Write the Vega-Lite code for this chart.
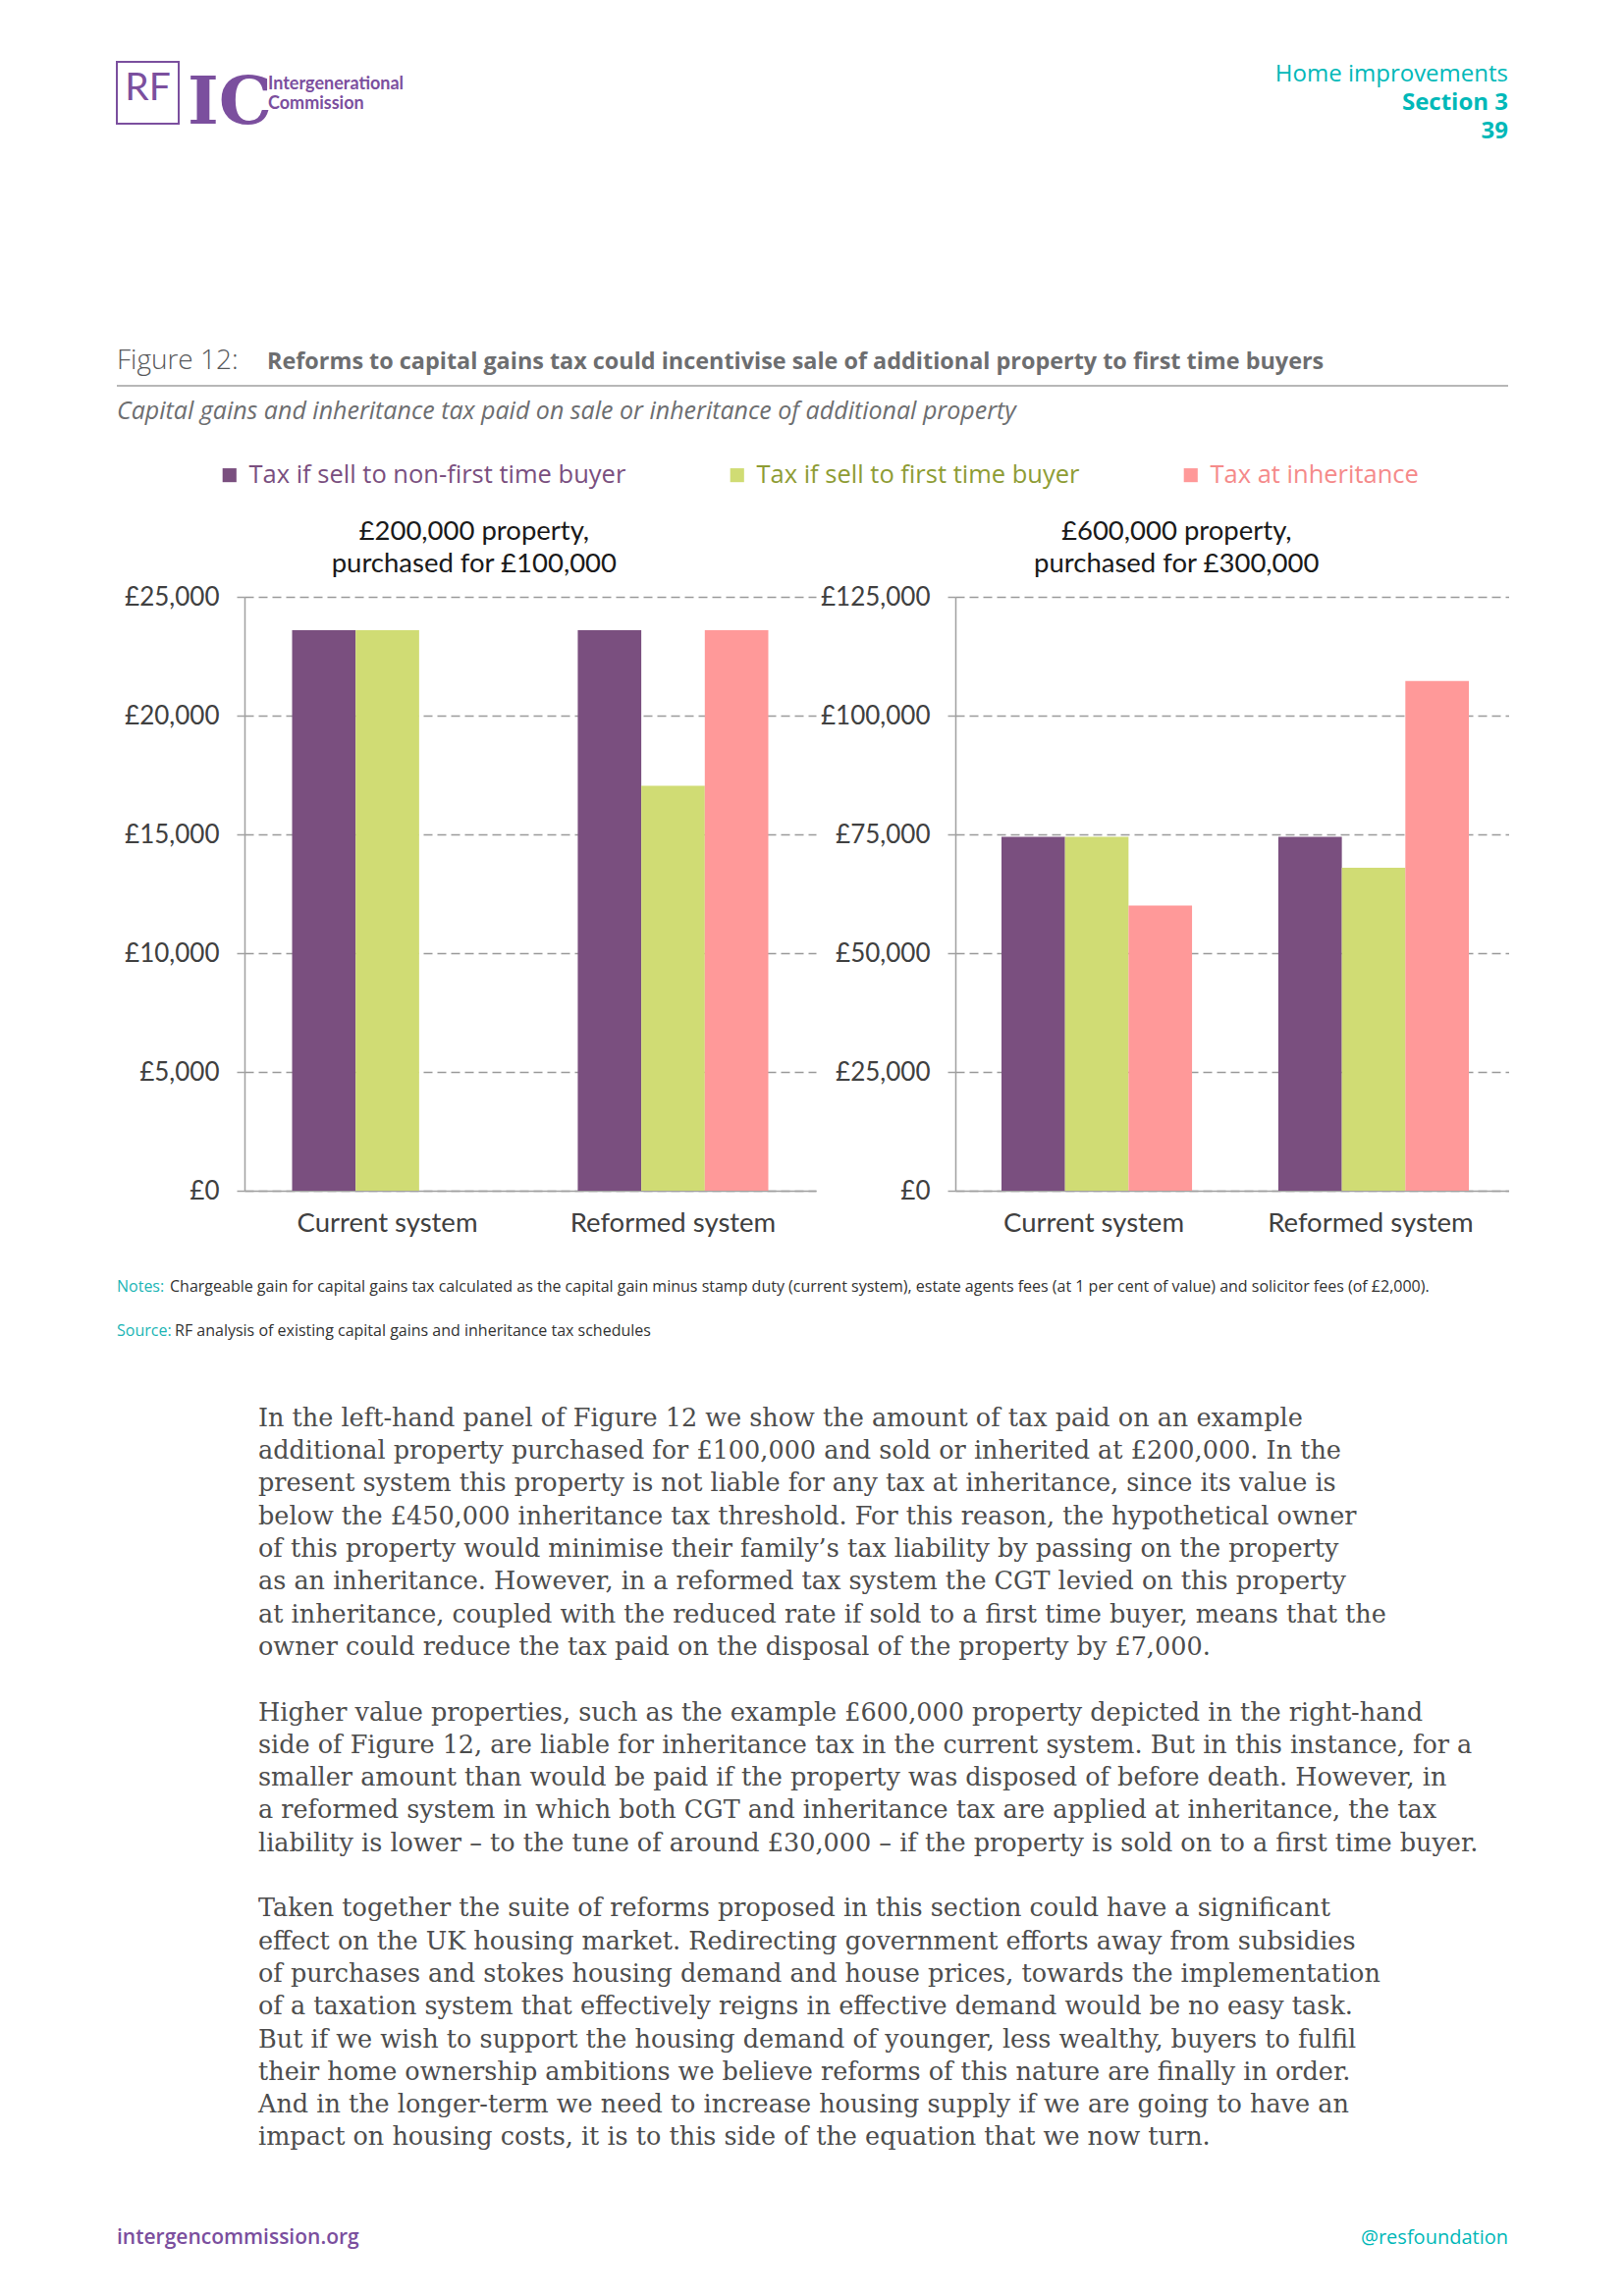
{
  "$schema": "https://vega.github.io/schema/vega-lite/v6.json",
  "background": "white",
  "padding": {"left": 118, "top": 0, "right": 0, "bottom": 0},
  "config": {
    "font": "Lato",
    "view": {"stroke": null},
    "title": {"baseline": "top", "fontWeight": "normal"},
    "axis": {"labelFont": "Lato", "labelFontSize": 26, "labelColor": "#404040", "title": null, "labelLimit": 400}
  },
  "datasets": {
    "blank": [{"k": "blank"}],
    "tax": [
      {"panel": "left", "system": "Current system", "series": "Tax if sell to non-first time buyer", "value": 23600},
      {"panel": "left", "system": "Current system", "series": "Tax if sell to first time buyer", "value": 23600},
      {"panel": "left", "system": "Current system", "series": "Tax at inheritance", "value": 0},
      {"panel": "left", "system": "Reformed system", "series": "Tax if sell to non-first time buyer", "value": 23600},
      {"panel": "left", "system": "Reformed system", "series": "Tax if sell to first time buyer", "value": 17050},
      {"panel": "left", "system": "Reformed system", "series": "Tax at inheritance", "value": 23600},
      {"panel": "right", "system": "Current system", "series": "Tax if sell to non-first time buyer", "value": 74500},
      {"panel": "right", "system": "Current system", "series": "Tax if sell to first time buyer", "value": 74500},
      {"panel": "right", "system": "Current system", "series": "Tax at inheritance", "value": 60000},
      {"panel": "right", "system": "Reformed system", "series": "Tax if sell to non-first time buyer", "value": 74500},
      {"panel": "right", "system": "Reformed system", "series": "Tax if sell to first time buyer", "value": 68000},
      {"panel": "right", "system": "Reformed system", "series": "Tax at inheritance", "value": 107300}
    ]
  },
  "vconcat": [
    {"width": 1417, "height": 63, "data": {"name": "blank"}, "mark": {"type": "point", "opacity": 0}, "encoding": {}},
    {
      "hconcat": [
        {"width": 63, "height": 63, "view": {"stroke": "#7b4f9e", "strokeWidth": 2}, "data": {"name": "blank"}, "mark": {"type": "point", "opacity": 0}, "encoding": {},
         "title": {"text": "RF", "anchor": "middle", "font": "Lato", "fontSize": 39, "color": "#7b4f9e", "offset": -47.2}},
        {"width": 91, "height": 63, "data": {"name": "blank"}, "mark": {"type": "point", "opacity": 0}, "encoding": {},
         "title": {"text": "IC", "anchor": "end", "dx": 4, "font": "DejaVu Serif", "fontWeight": "bold", "fontSize": 68, "color": "#7b4f9e", "offset": -77.3}},
        {"width": 200, "height": 63, "data": {"name": "blank"}, "mark": {"type": "point", "opacity": 0}, "encoding": {},
         "title": {"text": ["Intergenerational", "Commission"], "anchor": "start", "font": "Lato", "fontWeight": "bold", "fontSize": 18, "lineHeight": 20, "color": "#7b4f9e", "offset": -51.8}},
        {"width": 1063, "height": 63, "data": {"name": "blank"}, "mark": {"type": "point", "opacity": 0}, "encoding": {},
         "title": {"text": "Home improvements", "subtitle": ["Section 3", "39"], "anchor": "end", "font": "Open Sans", "fontWeight": "normal", "fontSize": 24, "color": "#00b8b8",
                   "subtitleFont": "Open Sans", "subtitleFontWeight": "bold", "subtitleFontSize": 24, "subtitleLineHeight": 29, "subtitleColor": "#00b8b8", "subtitlePadding": 5, "offset": -83.4}}
      ],
      "spacing": 0, "bounds": "flush"
    },
    {"width": 1417, "height": 277, "data": {"name": "blank"}, "mark": {"type": "point", "opacity": 0}, "encoding": {}},
    {
      "hconcat": [
        {"width": 153, "height": 52, "data": {"name": "blank"}, "mark": {"type": "point", "opacity": 0}, "encoding": {},
         "title": {"text": "Figure 12:", "anchor": "start", "font": "Open Sans", "fontWeight": 300, "fontSize": 28, "color": "#58595b", "offset": -41.9}},
        {"width": 1264, "height": 52, "data": {"name": "blank"}, "mark": {"type": "point", "opacity": 0}, "encoding": {},
         "title": {"text": "Reforms to capital gains tax could incentivise sale of additional property to first time buyers", "anchor": "start", "font": "Open Sans", "fontWeight": "bold", "fontSize": 23.4, "color": "#6d6e70", "offset": -40.9}}
      ],
      "spacing": 0, "bounds": "flush"
    },
    {"width": 1417, "height": 52, "data": {"name": "blank"}, "mark": {"type": "point", "opacity": 0}, "encoding": {}},
    {"width": 1417, "height": 2, "view": {"fill": "#b7b7b7", "stroke": null}, "data": {"name": "blank"}, "mark": {"type": "point", "opacity": 0}, "encoding": {}},
    {"width": 1417, "height": 56, "data": {"name": "blank"}, "mark": {"type": "point", "opacity": 0}, "encoding": {},
     "title": {"text": "Capital gains and inheritance tax paid on sale or inheritance of additional property", "anchor": "start", "font": "Open Sans", "fontWeight": "normal", "fontStyle": "italic", "fontSize": 25, "color": "#6d6e70", "offset": -38.2}},
    {"width": 1417, "height": 158, "data": {"name": "blank"}, "mark": {"type": "point", "opacity": 0}, "encoding": {}},
    {
      "hconcat": [
        {"width": 130, "height": 605, "data": {"name": "blank"}, "mark": {"type": "point", "opacity": 0}, "encoding": {}},
        {
          "width": 582, "height": 605,
          "data": {"name": "tax"},
          "transform": [{"filter": "datum.panel === 'left'"}],
          "title": {"text": ["£200,000 property,", "purchased for £100,000"], "frame": "bounds", "anchor": "middle", "font": "Lato", "fontSize": 27.5, "lineHeight": 33, "color": "#1a1a1a", "offset": 6.2, "dx": 4},
          "mark": {"type": "bar"},
          "encoding": {
            "x": {"field": "system", "type": "nominal", "sort": ["Current system", "Reformed system"],
                  "scale": {"paddingInner": 0.333, "paddingOuter": 0.1667},
                  "axis": {"ticks": false, "tickSize": 0, "labelAngle": 0, "labelPadding": 19, "labelFontSize": 27.5, "domainColor": "#a0a0a0", "domainWidth": 1.5, "title": null}},
            "xOffset": {"field": "series", "type": "nominal", "sort": ["Tax if sell to non-first time buyer", "Tax if sell to first time buyer", "Tax at inheritance"], "scale": {"paddingInner": 0, "paddingOuter": 0}},
            "y": {"field": "value", "type": "quantitative", "scale": {"domain": [0, 25000], "nice": false},
                  "axis": {"values": [0, 5000, 10000, 15000, 20000, 25000], "labelExpr": "'£' + format(datum.value, ',')", "title": null,
                           "domainColor": "#a0a0a0", "domainWidth": 1.5, "tickColor": "#a0a0a0", "tickSize": 8, "tickWidth": 1.5, "labelPadding": 18,
                           "gridColor": "#9a9a9a", "gridDash": [9, 5], "gridWidth": 1.5}},
            "color": {"field": "series", "type": "nominal",
                      "scale": {"domain": ["Tax if sell to non-first time buyer", "Tax if sell to first time buyer", "Tax at inheritance"], "range": ["#7a4f7f", "#d0dc74", "#ff9999"]},
                      "legend": {"orient": "none", "legendX": 102, "legendY": 471, "direction": "horizontal", "title": null, "symbolType": "square", "symbolSize": 200, "symbolStrokeWidth": 0,
                                 "labelFont": "Open Sans", "labelFontWeight": "normal", "labelFontSize": 25.5, "labelOffset": 7, "columnPadding": 100, "padding": 0, "labelLimit": 600,
                                 "encode": {"labels": {"update": {"fill": {"signal": "datum.value === 'Tax if sell to first time buyer' ? '#8e9c34' : datum.value === 'Tax at inheritance' ? '#f58a8a' : '#7a4f7f'"}}}}}}
          }
        },
        {"width": 142, "height": 605, "data": {"name": "blank"}, "mark": {"type": "point", "opacity": 0}, "encoding": {}},
        {
          "width": 564, "height": 605,
          "data": {"name": "tax"},
          "transform": [{"filter": "datum.panel === 'right'"}],
          "title": {"text": ["£600,000 property,", "purchased for £300,000"], "frame": "bounds", "anchor": "middle", "font": "Lato", "fontSize": 27.5, "lineHeight": 33, "color": "#1a1a1a", "offset": 6.2, "dx": 12},
          "mark": {"type": "bar"},
          "encoding": {
            "x": {"field": "system", "type": "nominal", "sort": ["Current system", "Reformed system"],
                  "scale": {"paddingInner": 0.333, "paddingOuter": 0.1667},
                  "axis": {"ticks": false, "tickSize": 0, "labelAngle": 0, "labelPadding": 19, "labelFontSize": 27.5, "domainColor": "#a0a0a0", "domainWidth": 1.5, "title": null}},
            "xOffset": {"field": "series", "type": "nominal", "sort": ["Tax if sell to non-first time buyer", "Tax if sell to first time buyer", "Tax at inheritance"], "scale": {"paddingInner": 0, "paddingOuter": 0}},
            "y": {"field": "value", "type": "quantitative", "scale": {"domain": [0, 125000], "nice": false},
                  "axis": {"values": [0, 25000, 50000, 75000, 100000, 125000], "labelExpr": "'£' + format(datum.value, ',')", "title": null,
                           "domainColor": "#a0a0a0", "domainWidth": 1.5, "tickColor": "#a0a0a0", "tickSize": 8, "tickWidth": 1.5, "labelPadding": 18,
                           "gridColor": "#9a9a9a", "gridDash": [9, 5], "gridWidth": 1.5}},
            "color": {"field": "series", "type": "nominal",
                      "scale": {"domain": ["Tax if sell to non-first time buyer", "Tax if sell to first time buyer", "Tax at inheritance"], "range": ["#7a4f7f", "#d0dc74", "#ff9999"]}}
          }
        }
      ],
      "spacing": 0, "bounds": "flush"
    },
    {"width": 1417, "height": 682, "data": {"name": "blank"}, "mark": {"type": "point", "opacity": 0}, "encoding": {}},
    {
      "hconcat": [
        {"width": 54, "height": 35, "data": {"name": "blank"}, "mark": {"type": "point", "opacity": 0}, "encoding": {},
         "title": {"text": "Notes:", "anchor": "start", "font": "Open Sans", "fontWeight": "normal", "fontSize": 16, "color": "#20b5b5", "offset": -29.4}},
        {"width": 1363, "height": 35, "data": {"name": "blank"}, "mark": {"type": "point", "opacity": 0}, "encoding": {},
         "title": {"text": "Chargeable gain for capital gains tax calculated as the capital gain minus stamp duty (current system), estate agents fees (at 1 per cent of value) and solicitor fees (of £2,000).", "anchor": "start", "font": "Open Sans", "fontWeight": "normal", "fontSize": 16, "color": "#333333", "offset": -29.4}}
      ],
      "spacing": 0, "bounds": "flush"
    },
    {"width": 1417, "height": 35, "data": {"name": "blank"}, "mark": {"type": "point", "opacity": 0}, "encoding": {}},
    {
      "hconcat": [
        {"width": 59, "height": 50, "data": {"name": "blank"}, "mark": {"type": "point", "opacity": 0}, "encoding": {},
         "title": {"text": "Source:", "anchor": "start", "font": "Open Sans", "fontWeight": "normal", "fontSize": 16, "color": "#20b5b5", "offset": -39.4}},
        {"width": 1358, "height": 50, "data": {"name": "blank"}, "mark": {"type": "point", "opacity": 0}, "encoding": {},
         "title": {"text": "RF analysis of existing capital gains and inheritance tax schedules", "anchor": "start", "font": "Open Sans", "fontWeight": "normal", "fontSize": 16, "color": "#333333", "offset": -39.4}}
      ],
      "spacing": 0, "bounds": "flush"
    },
    {"width": 1417, "height": 50, "data": {"name": "blank"}, "mark": {"type": "point", "opacity": 0}, "encoding": {}},
    {"width": 1417, "height": 320, "data": {"name": "blank"}, "mark": {"type": "point", "opacity": 0}, "encoding": {},
     "title": {"text": [
       "In the left-hand panel of Figure 12 we show the amount of tax paid on an example",
       "additional property purchased for £100,000 and sold or inherited at £200,000. In the",
       "present system this property is not liable for any tax at inheritance, since its value is",
       "below the £450,000 inheritance tax threshold. For this reason, the hypothetical owner",
       "of this property would minimise their family’s tax liability by passing on the property",
       "as an inheritance. However, in a reformed tax system the CGT levied on this property",
       "at inheritance, coupled with the reduced rate if sold to a first time buyer, means that the",
       "owner could reduce the tax paid on the disposal of the property by £7,000."
     ], "anchor": "start", "dx": 144, "font": "DejaVu Serif", "fontSize": 25.5, "lineHeight": 33.3, "color": "#4d4d4d", "offset": -316.5}},
    {"width": 1417, "height": 200, "data": {"name": "blank"}, "mark": {"type": "point", "opacity": 0}, "encoding": {},
     "title": {"text": [
       "Higher value properties, such as the example £600,000 property depicted in the right-hand",
       "side of Figure 12, are liable for inheritance tax in the current system. But in this instance, for a",
       "smaller amount than would be paid if the property was disposed of before death. However, in",
       "a reformed system in which both CGT and inheritance tax are applied at inheritance, the tax",
       "liability is lower – to the tune of around £30,000 – if the property is sold on to a first time buyer."
     ], "anchor": "start", "dx": 144, "font": "DejaVu Serif", "fontSize": 25.5, "lineHeight": 33.3, "color": "#4d4d4d", "offset": -196.3}},
    {"width": 1417, "height": 335, "data": {"name": "blank"}, "mark": {"type": "point", "opacity": 0}, "encoding": {},
     "title": {"text": [
       "Taken together the suite of reforms proposed in this section could have a significant",
       "effect on the UK housing market. Redirecting government efforts away from subsidies",
       "of purchases and stokes housing demand and house prices, towards the implementation",
       "of a taxation system that effectively reigns in effective demand would be no easy task.",
       "But if we wish to support the housing demand of younger, less wealthy, buyers to fulfil",
       "their home ownership ambitions we believe reforms of this nature are finally in order.",
       "And in the longer-term we need to increase housing supply if we are going to have an",
       "impact on housing costs, it is to this side of the equation that we now turn."
     ], "anchor": "start", "dx": 144, "font": "DejaVu Serif", "fontSize": 25.5, "lineHeight": 33.3, "color": "#4d4d4d", "offset": -296}},
    {
      "hconcat": [
        {"width": 700, "height": 109, "data": {"name": "blank"}, "mark": {"type": "point", "opacity": 0}, "encoding": {},
         "title": {"text": "intergencommission.org", "anchor": "start", "font": "Open Sans", "fontWeight": 600, "fontSize": 21, "color": "#7b4f9e", "offset": -60.4}},
        {"width": 717, "height": 109, "data": {"name": "blank"}, "mark": {"type": "point", "opacity": 0}, "encoding": {},
         "title": {"text": "@resfoundation", "anchor": "end", "font": "Open Sans", "fontWeight": "normal", "fontSize": 20, "color": "#00b8b8", "offset": -60.3}}
      ],
      "spacing": 0, "bounds": "flush"
    },
    {"width": 1417, "height": 109, "data": {"name": "blank"}, "mark": {"type": "point", "opacity": 0}, "encoding": {}}
  ],
  "spacing": 0,
  "bounds": "flush"
}
